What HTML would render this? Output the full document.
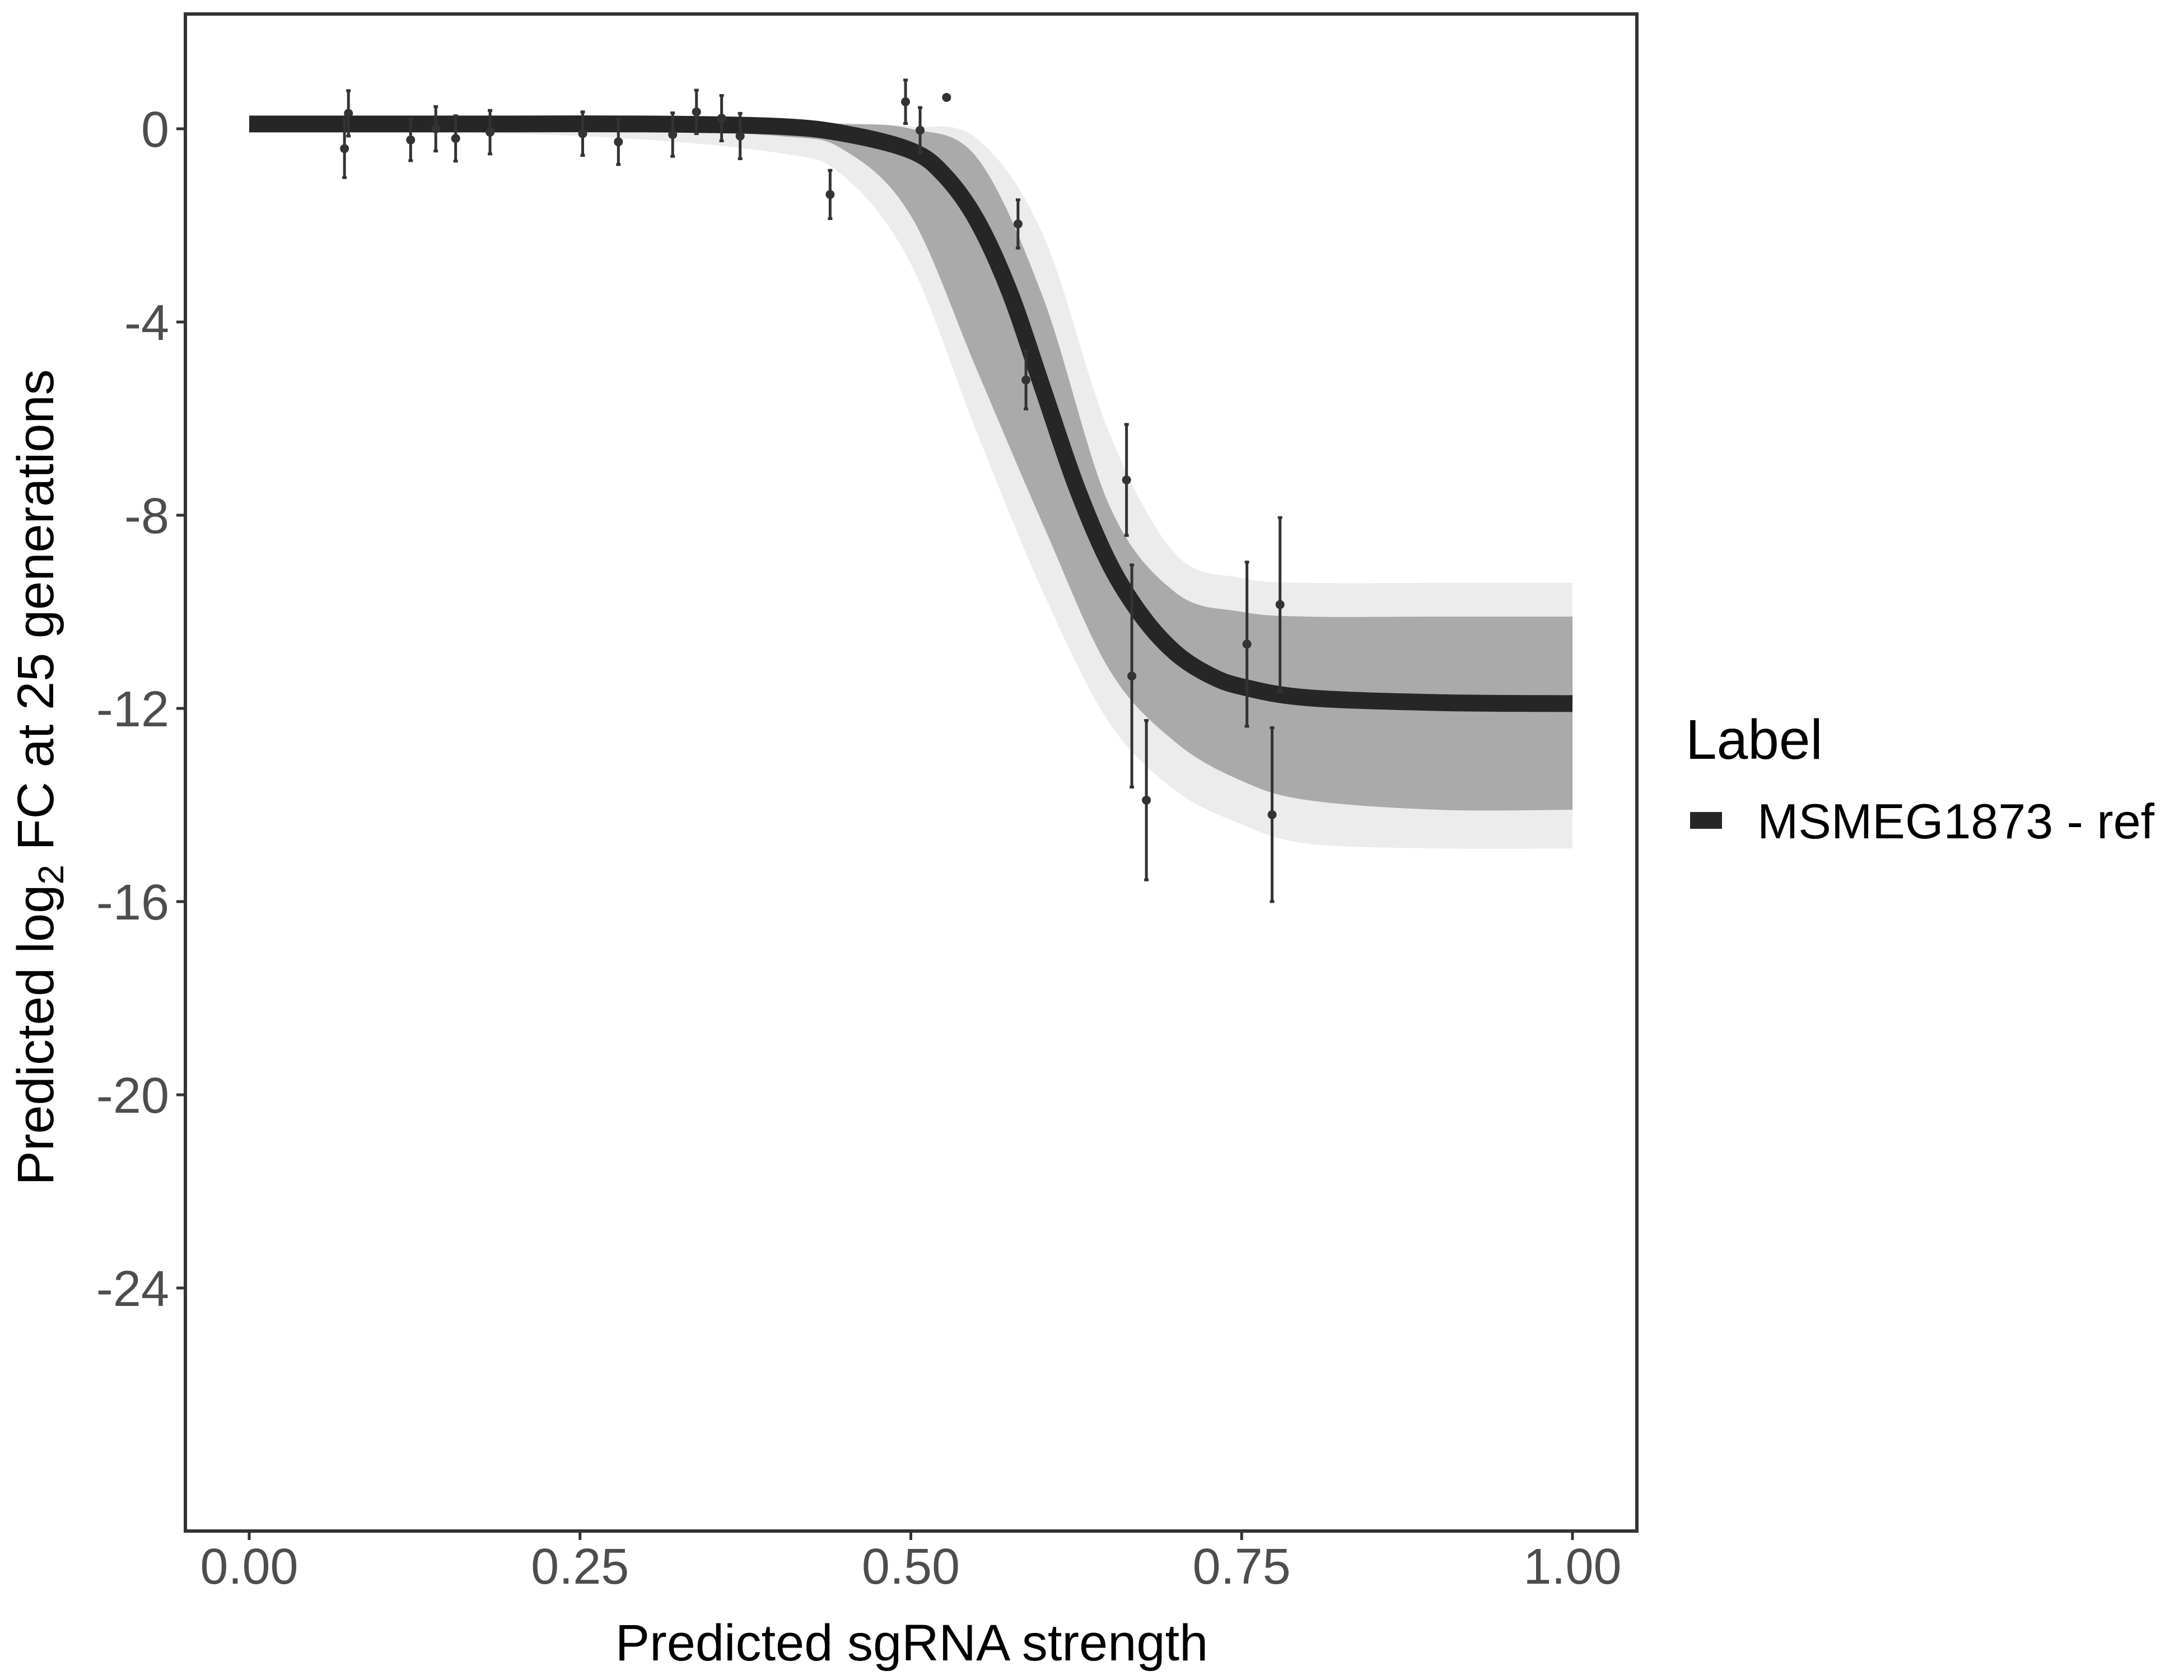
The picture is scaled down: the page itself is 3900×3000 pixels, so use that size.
<!DOCTYPE html>
<html><head><meta charset="utf-8"><style>
html,body{margin:0;padding:0;background:#fff;}
svg{display:block;font-family:"Liberation Sans",sans-serif;}
</style></head><body>
<svg id="chart" width="3900" height="3000" viewBox="0 0 3900 3000" xmlns="http://www.w3.org/2000/svg">
<rect x="0" y="0" width="3900" height="3000" fill="#fff"/>
<g id="plot"></g>
<rect x="331" y="25" width="2592" height="2709" fill="none" stroke="#333" stroke-width="6"/>
<g id="axes"></g>
<text x="1628" y="2965" font-size="92" text-anchor="middle" fill="#000">Predicted sgRNA strength</text>
<text transform="translate(95,1388) rotate(-90)" font-size="92" text-anchor="middle" fill="#000">Predicted  log<tspan font-size="64" dy="18">2</tspan><tspan dy="-18"> FC at 25 generations</tspan></text>
<g>
<text x="3010" y="1355" font-size="100" fill="#000">Label</text>
<rect x="3018" y="1450" width="57" height="30" fill="#262626"/>
<text x="3138" y="1497" font-size="88" fill="#000">MSMEG1873 - ref</text>
</g>
</svg>
<script>
const xTicks = [0, 0.25, 0.5, 0.75, 1.0];
const xTickLabels = ["0.00", "0.25", "0.50", "0.75", "1.00"];
const yTicks = [0, -4, -8, -12, -16, -20, -24];
const yTickLabels = ["0", "-4", "-8", "-12", "-16", "-20", "-24"];
const curveX = [0,0.1,0.2,0.3,0.4,0.45,0.5,0.525,0.55,0.575,0.6,0.625,0.65,0.675,0.7,0.725,0.75,0.8,0.9,1.0];
const curveY = [0.1,0.1,0.1,0.1,0.05,-0.1,-0.45,-0.95,-1.9,-3.4,-5.4,-7.4,-9.0,-10.1,-10.85,-11.3,-11.55,-11.78,-11.88,-11.9];
const bandX = [0,0.25,0.4,0.45,0.5,0.55,0.6,0.65,0.7,0.75,0.8,0.9,1.0];
const bandUpper = [0.12,0.12,0.12,0.1,0.0,-0.6,-3.5,-7.8,-9.6,-10.0,-10.1,-10.1,-10.1];
const bandLower = [0.05,0.0,-0.15,-0.45,-1.8,-5.0,-8.2,-11.2,-12.7,-13.5,-13.9,-14.1,-14.1];
const lightUpper = [0.15,0.15,0.15,0.12,0.05,-0.2,-2.2,-6.3,-8.8,-9.3,-9.4,-9.4,-9.4];
const lightLower = [0,-0.15,-0.5,-1.0,-2.8,-6.3,-9.6,-12.3,-13.7,-14.4,-14.8,-14.9,-14.9];
const ptX = [0.072,0.075,0.122,0.141,0.156,0.182,0.252,0.279,0.32,0.338,0.357,0.371,0.439,0.496,0.507,0.527,0.581,0.587,0.663,0.667,0.678,0.754,0.773,0.779];
const ptY = [-0.41,0.32,-0.23,0.0,-0.2,-0.07,-0.1,-0.27,-0.12,0.35,0.22,-0.15,-1.36,0.56,-0.03,0.65,-1.97,-5.2,-7.27,-11.33,-13.9,-10.67,-14.2,-9.85];
const ptErr = [0.6,0.47,0.43,0.46,0.47,0.45,0.45,0.47,0.45,0.45,0.47,0.47,0.5,0.45,0.47,0.0,0.5,0.6,1.15,2.3,1.65,1.7,1.8,1.8];

const NS = "http://www.w3.org/2000/svg";
const X0 = 445, X1 = 2808, Y0 = 230, YPER = 86.25;
function sx(v){ return X0 + v*(X1-X0); }
function sy(v){ return Y0 - v*YPER; }
function mk(tag, attrs, parent){
  const e = document.createElementNS(NS, tag);
  for (const k in attrs) e.setAttribute(k, attrs[k]);
  parent.appendChild(e); return e;
}
function smoothPath(xs, ys, move){
  const p = xs.map((x,i)=>[sx(x), sy(ys[i])]);
  let d = (move ? "M" : "L") + p[0][0].toFixed(1) + "," + p[0][1].toFixed(1);
  for (let i=0;i<p.length-1;i++){
    const a=p[Math.max(i-1,0)], b=p[i], c=p[i+1], e=p[Math.min(i+2,p.length-1)];
    const c1=[b[0]+(c[0]-a[0])/6, b[1]+(c[1]-a[1])/6];
    const c2=[c[0]-(e[0]-b[0])/6, c[1]-(e[1]-b[1])/6];
    d += "C"+c1[0].toFixed(1)+","+c1[1].toFixed(1)+" "+c2[0].toFixed(1)+","+c2[1].toFixed(1)+" "+c[0].toFixed(1)+","+c[1].toFixed(1);
  }
  return d;
}
function bandPath(up, lo){
  const rx = bandX.slice().reverse(), rlo = lo.slice().reverse();
  return smoothPath(bandX, up, true) + smoothPath(rx, rlo, false) + "Z";
}
const plot = document.getElementById("plot");
const axes = document.getElementById("axes");

const lb = mk("path", {d: bandPath(lightUpper, lightLower), fill:"#ececec"}, plot);


const db = mk("path", {d: bandPath(bandUpper, bandLower), fill:"#aaaaaa"}, plot);



const line = mk("path", {d: smoothPath(curveX, curveY, true), fill:"none", stroke:"#262626", "stroke-width":30}, plot);



for (let i=0;i<ptX.length;i++){
  const g = mk("g", {}, plot);
  
  
  const x = sx(ptX[i]);
  if (ptErr[i] > 0){
    const t = sy(ptY[i]+ptErr[i]), b = sy(ptY[i]-ptErr[i]);
    mk("line", {x1:x, x2:x, y1:t, y2:b, stroke:"#333", "stroke-width":5}, g);
    mk("line", {x1:x-4, x2:x+4, y1:t, y2:t, stroke:"#333", "stroke-width":5}, g);
    mk("line", {x1:x-4, x2:x+4, y1:b, y2:b, stroke:"#333", "stroke-width":5}, g);
  }
  mk("circle", {cx:x, cy:sy(ptY[i]), r:8, fill:"#333"}, g);
}

xTicks.forEach((v,i)=>{
  const t = mk("line", {x1:sx(v), x2:sx(v), y1:2737, y2:2750, stroke:"#333", "stroke-width":5}, axes);
  
  
  const l = mk("text", {x:sx(v), y:2828, "font-size":90, "text-anchor":"middle", fill:"#4d4d4d"}, axes);
  l.textContent = xTickLabels[i];
  
  
});
yTicks.forEach((v,i)=>{
  const t = mk("line", {x1:315, x2:328, y1:sy(v), y2:sy(v), stroke:"#333", "stroke-width":5}, axes);
  
  
  const l = mk("text", {x:302, y:sy(v)+32, "font-size":90, "text-anchor":"end", fill:"#4d4d4d"}, axes);
  l.textContent = yTickLabels[i];
  
  
});
</script>
</body></html>
